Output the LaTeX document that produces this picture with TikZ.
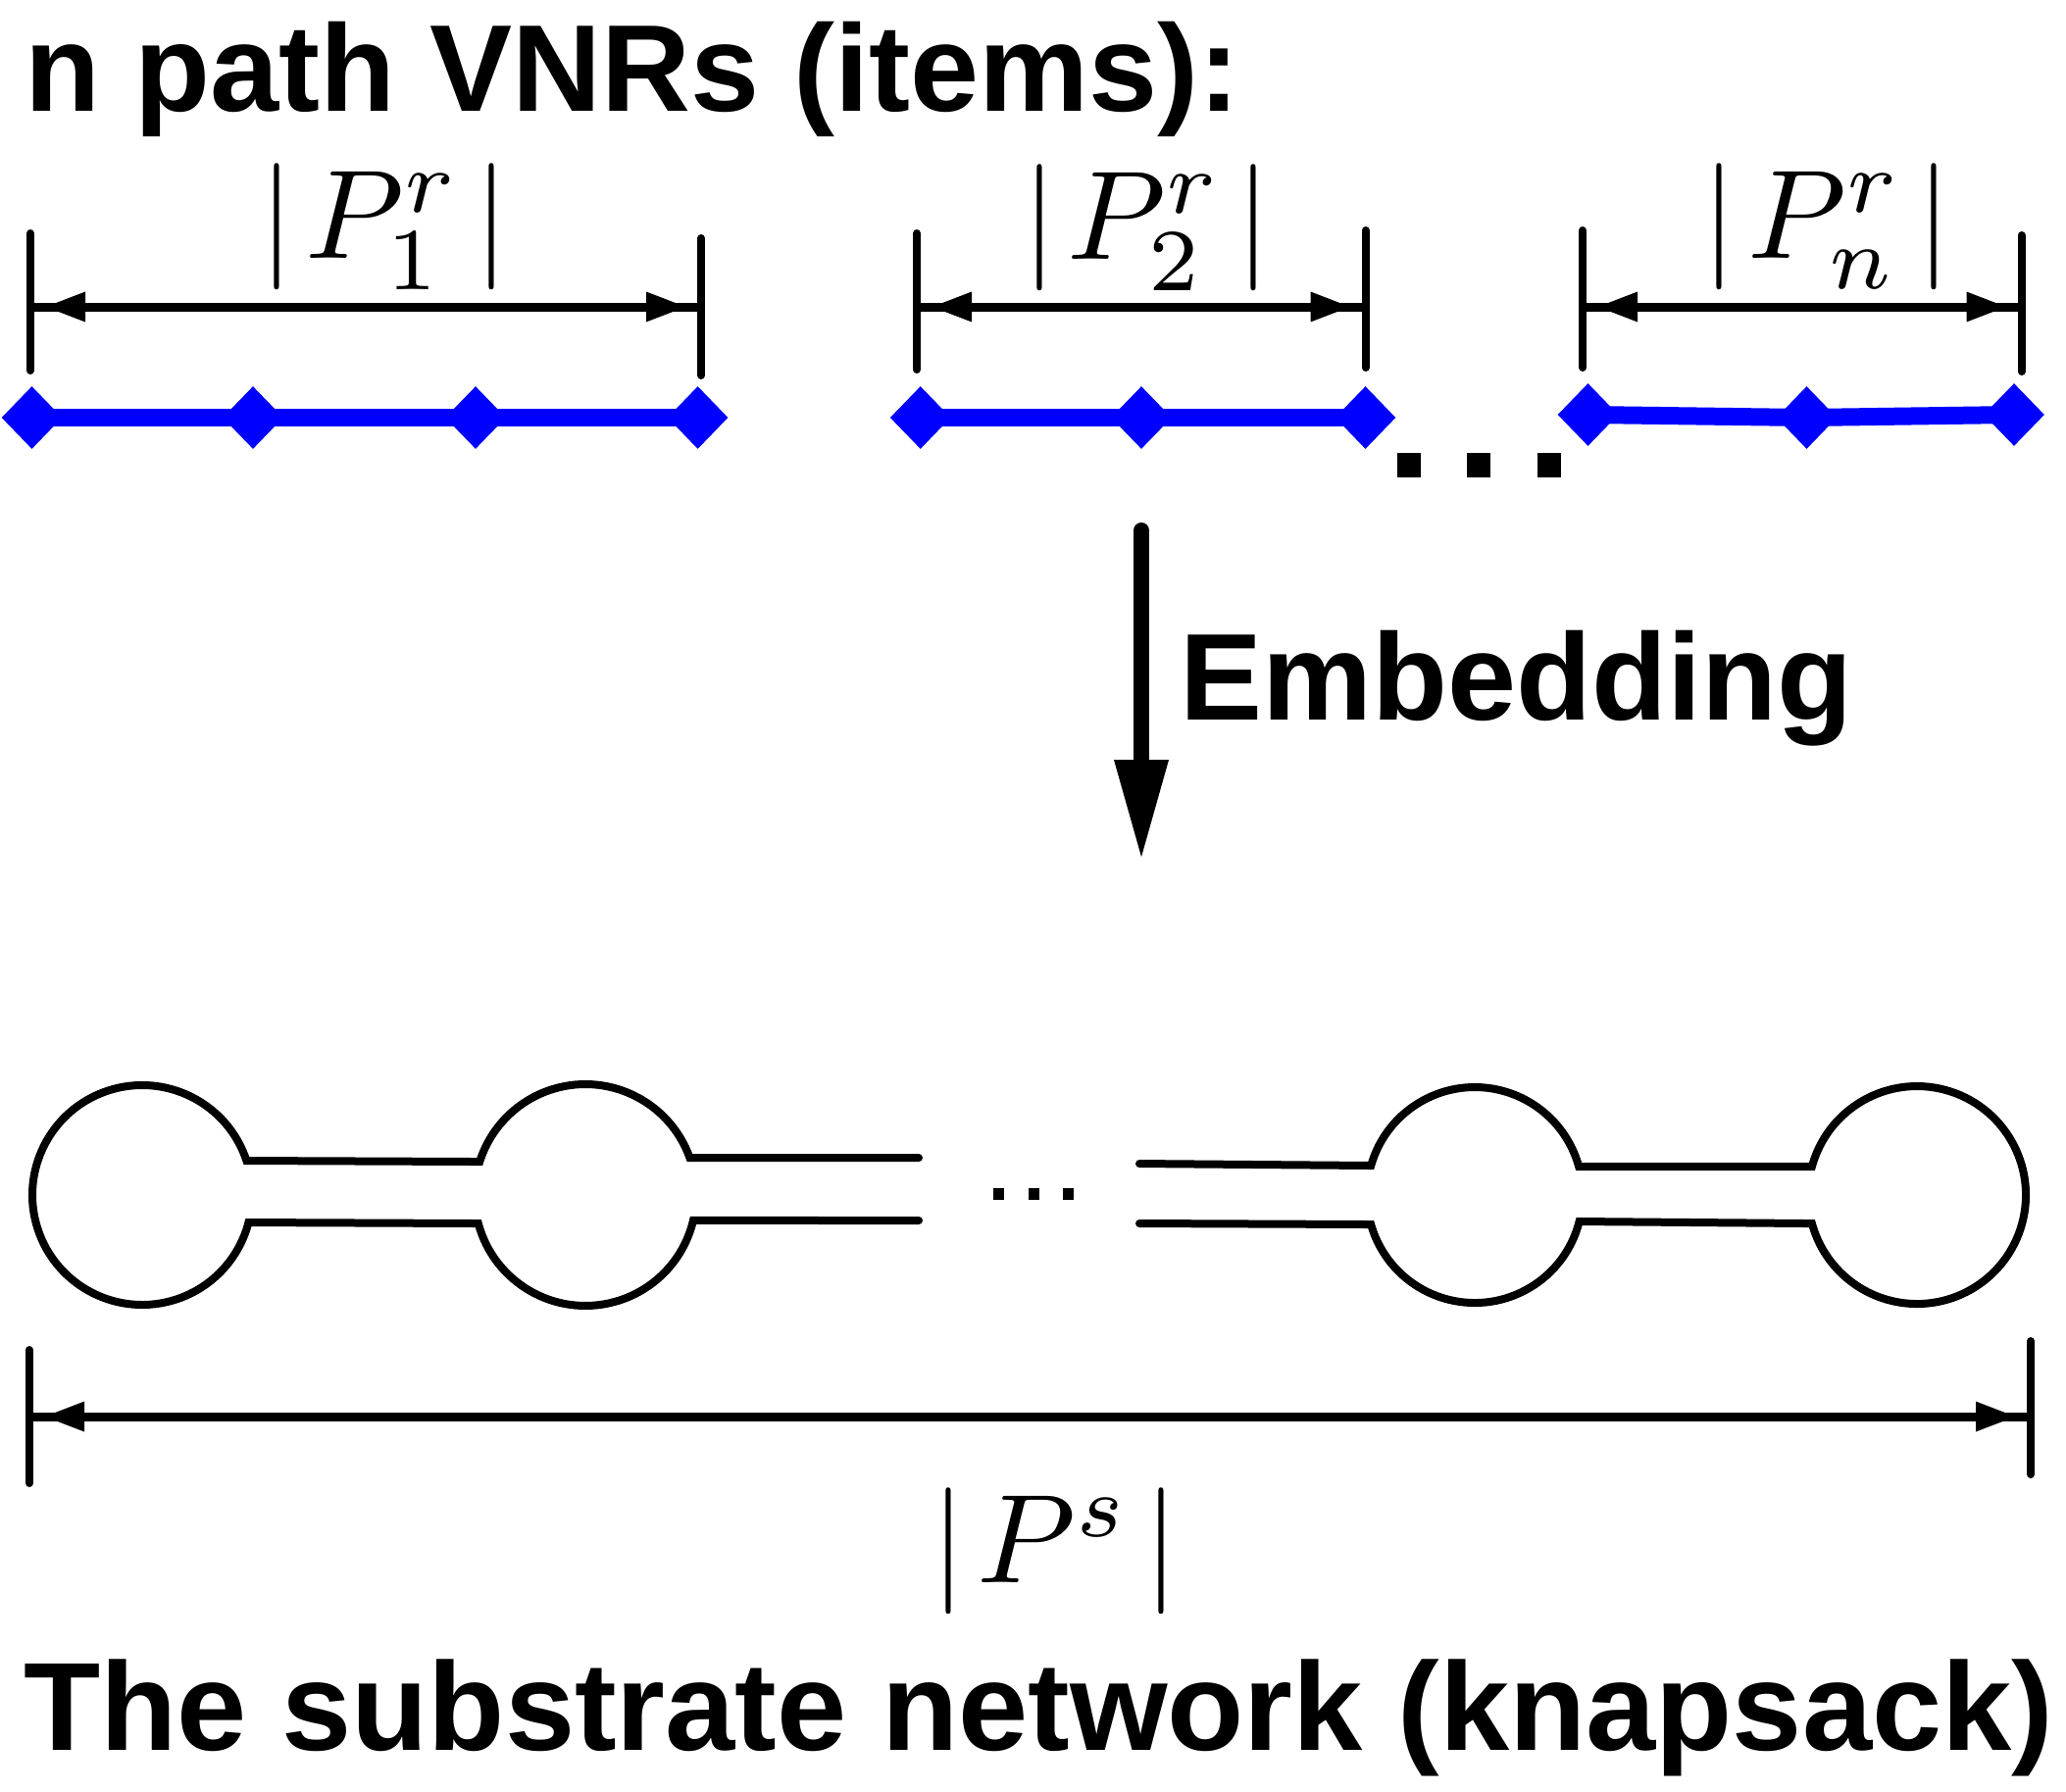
\documentclass[tikz,border=0pt]{standalone}
\usepackage{fontspec}
\setmainfont{Liberation Sans}
\usetikzlibrary{arrows.meta,shapes.geometric}
\definecolor{vblue}{RGB}{0,0,255}
\newcommand{\biglab}[1]{\scalebox{6.45}{$#1$}}
\tikzset{
  vnode/.style={diamond, fill=vblue, draw=none, minimum width=31pt, minimum height=32pt, inner sep=0pt},
  vline/.style={draw=vblue, line width=9pt},
  tickline/.style={line width=4pt, line cap=round},
  dimline/.style={line width=4.5pt},
  dimarrow/.style={line width=4.5pt, shorten <=7pt, shorten >=7pt,
    {Triangle[length=21pt,width=14pt]}-{Triangle[length=21pt,width=14pt]}},
  bigtext/.style={font=\fontsize{63}{70}\selectfont\bfseries, inner sep=0pt},
  mlab/.style={inner sep=0pt, anchor=base},
  sqdot/.style={rectangle, fill=black, inner sep=0pt, minimum width=12pt, minimum height=12.5pt},
  smalldot/.style={rectangle, fill=black, inner sep=0pt, minimum width=5.5pt, minimum height=6pt},
  subnet/.style={line width=4pt, line cap=round}
}
\begin{document}
\begin{tikzpicture}[x=0.5pt,y=-0.5pt]
\useasboundingbox (0,0) rectangle (2107,1827);

% title
\node[bigtext, anchor=base west] (title) at (25,113) {n path VNRs (items):};

% ---- group 1 ----
\coordinate (L1t) at (31,238); \coordinate (L1b) at (31,378);
\coordinate (R1t) at (715,243); \coordinate (R1b) at (715,383);
\coordinate (L1m) at (31,313); \coordinate (R1m) at (715,313);
\draw[tickline] (L1t) -- (L1b);
\draw[tickline] (R1t) -- (R1b);
\draw[dimline] (L1m) -- (R1m);
\draw[dimarrow] (L1m) -- (R1m);
\node[mlab] (lab1) at (392,263) {\biglab{|\mkern1.5mu P_1^r\mkern2mu|}};

\node[vnode] (a1) at (32.5,426) {};
\node[vnode] (a2) at (258,426) {};
\node[vnode] (a3) at (485,426) {};
\node[vnode] (a4) at (711.6,426) {};
\draw[vline] (a1.center) -- (a2.center);
\draw[vline] (a2.center) -- (a3.center);
\draw[vline] (a3.center) -- (a4.center);

% ---- group 2 ----
\coordinate (L2t) at (935,238); \coordinate (L2b) at (935,377);
\coordinate (R2t) at (1392.5,235); \coordinate (R2b) at (1392.5,375);
\coordinate (L2m) at (935,313); \coordinate (R2m) at (1392.5,313);
\draw[tickline] (L2t) -- (L2b);
\draw[tickline] (R2t) -- (R2b);
\draw[dimline] (L2m) -- (R2m);
\draw[dimarrow] (L2m) -- (R2m);
\node[mlab] (lab2) at (1169.5,264) {\biglab{|\mkern1.5mu P_2^r\mkern2mu|}};

\node[vnode] (b1) at (938.7,426) {};
\node[vnode] (b2) at (1164,426) {};
\node[vnode] (b3) at (1392.5,426) {};
\draw[vline] (b1.center) -- (b2.center);
\draw[vline] (b2.center) -- (b3.center);

% dots
\node[sqdot] (d1) at (1437,474.5) {};
\node[sqdot] (d2) at (1507.5,474.5) {};
\node[sqdot] (d3) at (1579.5,474.5) {};

% ---- group 3 ----
\coordinate (L3t) at (1614,235); \coordinate (L3b) at (1614,375);
\coordinate (R3t) at (2061.5,240); \coordinate (R3b) at (2061.5,379);
\coordinate (L3m) at (1614,313); \coordinate (R3m) at (2061.5,313);
\draw[tickline] (L3t) -- (L3b);
\draw[tickline] (R3t) -- (R3b);
\draw[dimline] (L3m) -- (R3m);
\draw[dimarrow] (L3m) -- (R3m);
\node[mlab] (lab3) at (1863,263) {\biglab{|\mkern1.5mu P_n^r\mkern2mu|}};

\node[vnode] (c1) at (1619.5,423) {};
\node[vnode] (c2) at (1842.5,426) {};
\node[vnode] (c3) at (2054,423) {};
\draw[vline] (c1.center) -- (c2.center);
\draw[vline] (c2.center) -- (c3.center);

% ---- embedding arrow ----
\coordinate (et) at (1164,541);
\coordinate (eb) at (1164,878);
\draw[line width=8pt, line cap=round, -{Triangle[length=51.5pt,width=25.5pt]}] (et) -- (eb);
\node[bigtext, anchor=base west] (emb) at (1203,734) {Embedding};

% ---- substrate network ----
\draw[subnet] (937,1181) -- (703.4,1181)
  arc[start angle=-19.65, end angle=-162.5, radius=113] -- (251.4,1184)
  arc[start angle=-18.2, end angle=-345.5, radius=112] -- (487.8,1248)
  arc[start angle=165.1, end angle=13.3, radius=113] -- (937,1245);
\draw[subnet] (1162,1187) -- (1398.2,1189)
  arc[start angle=-164.17, end angle=-15.29, radius=110] -- (1847.9,1190)
  arc[start angle=-164.84, end angle=164.84, radius=111] -- (1610.6,1246)
  arc[start angle=14.21, end angle=164.17, radius=110] -- (1162,1248);
\node[smalldot] (s1) at (1018,1218) {};
\node[smalldot] (s2) at (1054,1218) {};
\node[smalldot] (s3) at (1089,1218) {};

% ---- bottom dimension ----
\coordinate (L4t) at (30,1377); \coordinate (L4b) at (30,1513);
\coordinate (R4t) at (2071,1368); \coordinate (R4b) at (2071,1504);
\coordinate (L4m) at (30,1445); \coordinate (R4m) at (2071,1445);
\draw[tickline] (L4t) -- (L4b);
\draw[tickline] (R4t) -- (R4b);
\draw[dimline] (L4m) -- (R4m);
\draw[dimarrow] (L4m) -- (R4m);
\node[mlab] (lab4) at (1076,1614) {\biglab{|\mkern1.5mu P^s\mkern2mu|}};

\node[bigtext, anchor=base west, font=\fontsize{64}{70}\selectfont\bfseries] (knap) at (24,1785) {The substrate network (knapsack)};
\end{tikzpicture}
\end{document}
